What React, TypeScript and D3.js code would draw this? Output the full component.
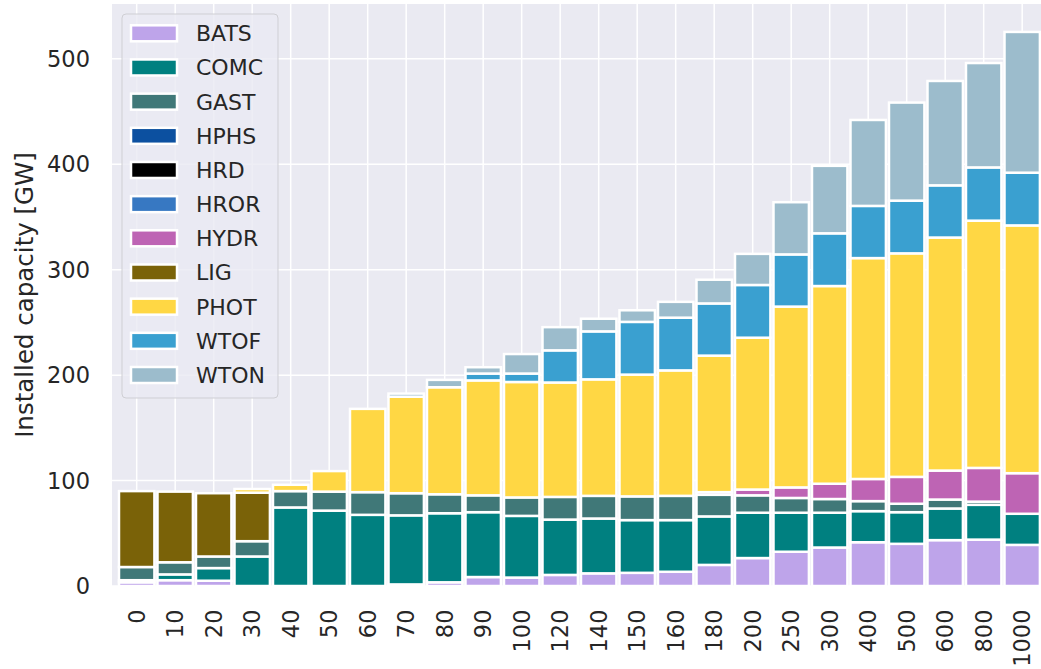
import React, { useEffect, useRef } from 'react';
import * as d3 from 'd3';

// categories on the x axis
const categories = ['0', '10', '20', '30', '40', '50', '60', '70', '80', '90', '100', '120', '140', '150', '160', '180', '200', '250', '300', '400', '500', '600', '800', '1000'];

// installed capacity per technology [GW]
const BATS = [3.5, 5.5, 5, 0, 0, 0, 0, 1.5, 3.5, 8.5, 8, 10.5, 12, 12.5, 13.5, 20, 26.5, 32.5, 36.5, 41.5, 40, 43.5, 44, 39];
const COMC = [2, 5.5, 12, 28, 74.5, 71.5, 67.5, 65.5, 65.5, 61.5, 58.5, 52.5, 52, 50, 49, 46, 43, 37, 33, 29.5, 30, 30, 33, 29.5];
const GAST = [12.5, 11.5, 11, 14.5, 15.5, 18, 21.5, 21, 18, 16, 17.5, 21.5, 21.5, 22.5, 23, 20.5, 16.5, 14, 13, 9.5, 8, 8.5, 3, 0];
const HPHS = [0, 0, 0, 0, 0, 0, 0, 0, 0, 0, 0, 0, 0, 0, 0, 0, 0, 0, 0, 0, 0, 0, 0, 0];
const HRD = [0, 0, 0, 0, 0, 0, 0, 0, 0, 0, 0, 0, 0, 0, 0, 0, 0, 0, 0, 0, 0, 0, 0, 0];
const HROR = [0, 0, 0, 0, 0, 0, 0, 0, 0, 0, 0, 0, 0, 0, 0, 0, 0, 0, 0, 0, 0, 0, 0, 0];
const HYDR = [0, 0, 0, 0, 0, 0, 0, 0, 0, 0, 0, 0, 0, 0, 0, 2.5, 5.5, 10, 14.5, 21, 25.5, 27.5, 32, 38.5];
const LIG = [72, 67, 60, 46, 0, 0, 0, 0, 0, 0, 0, 0, 0, 0, 0, 0, 0, 0, 0, 0, 0, 0, 0, 0];
const PHOT = [0, 0, 0, 3.5, 6, 19.5, 79, 91.5, 101.5, 109, 109.5, 108.5, 110.5, 115.5, 119, 129.5, 144, 171.5, 187.5, 209.5, 212, 221, 234.5, 235];
const WTOF = [0, 0, 0, 0, 0, 0, 0, 0, 0, 6.5, 8, 30.5, 45.5, 50, 50, 49.5, 50, 49.5, 50, 49.5, 50, 49.5, 50.5, 50];
const WTON = [0, 0, 0, 0, 0, 0, 0, 3, 7, 6, 18.5, 22, 12, 11, 15, 22.5, 29.5, 49.5, 64, 81.5, 93, 99, 99, 133.5];

const seriesNames = ['BATS', 'COMC', 'GAST', 'HPHS', 'HRD', 'HROR', 'HYDR', 'LIG', 'PHOT', 'WTOF', 'WTON'];
const seriesValues = [BATS, COMC, GAST, HPHS, HRD, HROR, HYDR, LIG, PHOT, WTOF, WTON];
const seriesColors = ['#bea4ea', '#008080', '#407878', '#0c50a0', '#000000', '#3778c2', '#be64b4', '#7a6208', '#ffd744', '#3aa0d0', '#9cbccc'];

const yTicks = [0, 100, 200, 300, 400, 500];

const W = 1041;
const H = 669;
const plot = { left: 112, right: 1048, top: 4, bottom: 586 };
const font = 'DejaVu Sans, sans-serif';
const textColor = '#262626';

const App = () => {
  const ref = useRef<SVGSVGElement>(null);

  useEffect(() => {
    const svg = d3.select(ref.current);
    svg.selectAll('*').remove();

    const rows = categories.map((c, i) => {
      const row: any = { cat: c };
      seriesNames.forEach((n, k) => (row[n] = seriesValues[k][i]));
      return row;
    });
    const stacked = d3.stack().keys(seriesNames)(rows);

    const x = d3.scalePoint().domain(categories).range([136.7, 1022.2]);
    const step = x.step();
    const barW = step * 0.92;
    const y = d3.scaleLinear().domain([0, 552]).range([plot.bottom, plot.top]);

    // background + grid
    svg.append('rect')
      .attr('x', plot.left).attr('y', plot.top)
      .attr('width', plot.right - plot.left).attr('height', plot.bottom - plot.top)
      .attr('fill', '#eaeaf2');

    const grid = svg.append('g').attr('stroke', '#fff').attr('stroke-width', 1.5);
    yTicks.forEach(t => {
      grid.append('line')
        .attr('x1', plot.left).attr('x2', plot.right)
        .attr('y1', y(t)).attr('y2', y(t));
    });
    categories.forEach(c => {
      grid.append('line')
        .attr('x1', x(c)!).attr('x2', x(c)!)
        .attr('y1', plot.top).attr('y2', plot.bottom);
    });

    // stacked bars
    const bars = svg.append('g');
    stacked.forEach((layer, k) => {
      bars.append('g')
        .attr('fill', seriesColors[k])
        .selectAll('rect')
        .data(layer.filter(d => d[1] - d[0] > 0))
        .enter()
        .append('rect')
        .attr('x', d => x((d.data as any).cat)! - barW / 2)
        .attr('width', barW)
        .attr('y', d => y(d[1]))
        .attr('height', d => y(d[0]) - y(d[1]))
        .attr('stroke', '#fff')
        .attr('stroke-width', 2.5);
    });

    // y axis
    const yAxis = svg.append('g').attr('font-family', font).attr('font-size', 22.5).attr('fill', textColor);
    yTicks.forEach(t => {
      yAxis.append('text')
        .attr('x', 90).attr('y', y(t))
        .attr('dy', '0.36em')
        .attr('text-anchor', 'end')
        .text(t);
    });
    svg.append('text')
      .attr('transform', `translate(33, ${(plot.top + plot.bottom) / 2}) rotate(-90)`)
      .attr('text-anchor', 'middle')
      .attr('font-family', font).attr('font-size', 24.5).attr('fill', textColor)
      .text('Installed capacity [GW]');

    // x axis (rotated labels)
    const xAxis = svg.append('g').attr('font-family', font).attr('font-size', 22.5).attr('fill', textColor);
    categories.forEach(c => {
      xAxis.append('text')
        .attr('transform', `translate(${x(c)}, 609.5) rotate(-90)`)
        .attr('text-anchor', 'end')
        .attr('dy', '0.36em')
        .text(c);
    });

    // legend
    const lg = svg.append('g');
    lg.append('rect')
      .attr('x', 122).attr('y', 14).attr('width', 156).attr('height', 384)
      .attr('rx', 4).attr('ry', 4)
      .attr('fill', '#eaeaf2').attr('fill-opacity', 0.8)
      .attr('stroke', '#cfcfd4').attr('stroke-width', 1);
    seriesNames.forEach((n, k) => {
      const cy = 33.3 + k * 34.17;
      lg.append('rect')
        .attr('x', 131).attr('y', cy - 8).attr('width', 46).attr('height', 16)
        .attr('fill', seriesColors[k]).attr('stroke', '#fff').attr('stroke-width', 2.5);
      lg.append('text')
        .attr('x', 196).attr('y', cy).attr('dy', '0.36em')
        .attr('font-family', font).attr('font-size', 22).attr('fill', textColor)
        .text(n);
    });
  }, []);

  return (
    <svg ref={ref} width={W} height={H} style={{ position: 'absolute', left: 0, top: 0, background: '#fff' }} />
  );
};

export default App;
